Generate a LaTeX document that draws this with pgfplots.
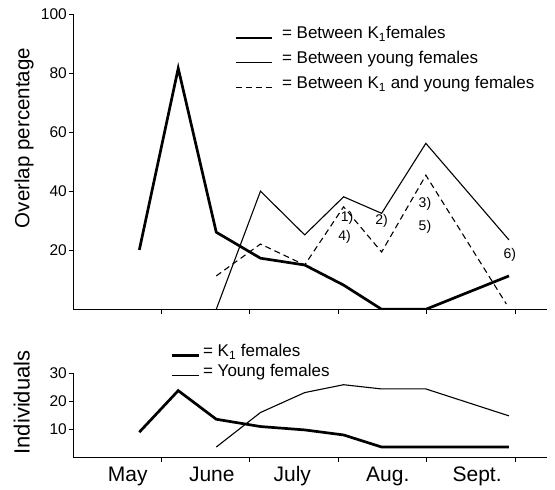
\documentclass[border=0pt]{standalone}
\usepackage{pgfplots}
\pgfplotsset{compat=1.18}
\usepackage{fontspec}
\setmainfont{Liberation Sans}
\newcommand{\fs}[1]{\fontsize{#1}{#1}\selectfont}
\pgfplotsset{
  myax/.style={
    scale only axis, width=474pt, xmin=0, xmax=5.36, ymin=0,
    axis x line*=bottom, axis y line*=left,
    axis line style={-, line width=0.9pt},
    xtick={1,2,3,4,5}, xticklabels={},
    tick align=outside, major tick length=4.5pt,
    every tick/.style={black, line width=0.8pt},
    /pgf/number format/assume math mode=true,
    tick label style={font=\fs{15.5}},
    y tick label style={inner sep=1.5pt},
    legend cell align=left,
  },
  thickl/.style={black, line width=2.7pt},
  thinl/.style={black, line width=1.1pt},
  dashl/.style={black, line width=1.1pt, dash pattern=on 6pt off 4pt},
}
\begin{document}
\begin{tikzpicture}
\path[use as bounding box] (0pt,0pt) rectangle (555pt,490pt);
\begin{axis}[myax, at={(73pt,180.7pt)}, anchor=south west, height=295.3pt,
  ymax=100, ytick={20,40,60,80,100},
  ylabel={Overlap percentage},
  ylabel style={font=\fs{20.5}, at={(axis description cs:-0.103,0.58)}, anchor=center},
  legend image code/.code={\draw[#1] (0pt,-4.5pt) -- (36pt,-4.5pt);},
  legend style={at={(axis description cs:0.34,0.965)}, anchor=north west,
    draw=none, fill=none, font=\fs{17}, row sep=7pt, column sep=7pt, inner sep=0pt}]
\addplot[thickl] coordinates {(0.75,20.1) (1.19,81.6) (1.62,26.1) (2.12,17.3) (2.62,15) (3.06,8.2) (3.49,0) (3.99,0) (4.93,11.3)};
\addlegendentry{= Between K\textsubscript{1}females}
\addplot[thinl] coordinates {(1.62,0) (2.12,40) (2.62,25.2) (3.06,38.1) (3.49,32.5) (3.99,56.2) (4.93,23.5)};
\addlegendentry{= Between young females}
\addplot[dashl] coordinates {(1.62,11.3) (2.12,22.1) (2.62,15) (3.06,34.7) (3.49,19.4) (3.99,45.4) (4.90,1.8)};
\addlegendentry{= Between K\textsubscript{1} and young females}
\node[font=\fs{14}] at (axis cs:3.10,30.8) {1)};
\node[font=\fs{14}] at (axis cs:3.07,24.4) {4)};
\node[font=\fs{14}] at (axis cs:3.49,30.0) {2)};
\node[font=\fs{14}] at (axis cs:3.98,35.7) {3)};
\node[font=\fs{14}] at (axis cs:3.98,28.0) {5)};
\node[font=\fs{14}] at (axis cs:4.94,18.4) {6)};
\end{axis}
\begin{axis}[myax, at={(73pt,32.3pt)}, anchor=south west, height=84.2pt,
  ymax=30, ytick={10,20,30},
  ylabel={Individuals},
  ylabel style={font=\fs{22}, at={(axis description cs:-0.108,0.656)}, anchor=center},
  extra x ticks={0.62,1.57,2.48,3.56,4.57},
  extra x tick labels={May,June,July,Aug.,Sept.},
  extra x tick style={major tick length=0pt, tick style={draw=none},
    tick label style={font=\fs{21}, inner sep=0pt, anchor=base, yshift=-24pt}},
  legend image code/.code={\draw[#1] (0pt,-4pt) -- (27pt,-4pt);},
  legend style={at={(axis description cs:0.205,1.37)}, anchor=north west,
    draw=none, fill=none, font=\fs{17}, row sep=2pt, column sep=1pt, inner sep=0pt}]
\addplot[thickl] coordinates {(0.75,9.1) (1.19,23.9) (1.62,13.7) (2.12,11.1) (2.62,9.9) (3.06,8.1) (3.49,3.8) (3.99,3.8) (4.93,3.8)};
\addlegendentry{= K\textsubscript{1} females}
\addplot[thinl] coordinates {(1.62,3.8) (2.12,16.1) (2.62,23.2) (3.06,26.0) (3.49,24.5) (3.99,24.5) (4.93,14.9)};
\addlegendentry{= Young females}
\end{axis}
\end{tikzpicture}
\end{document}
